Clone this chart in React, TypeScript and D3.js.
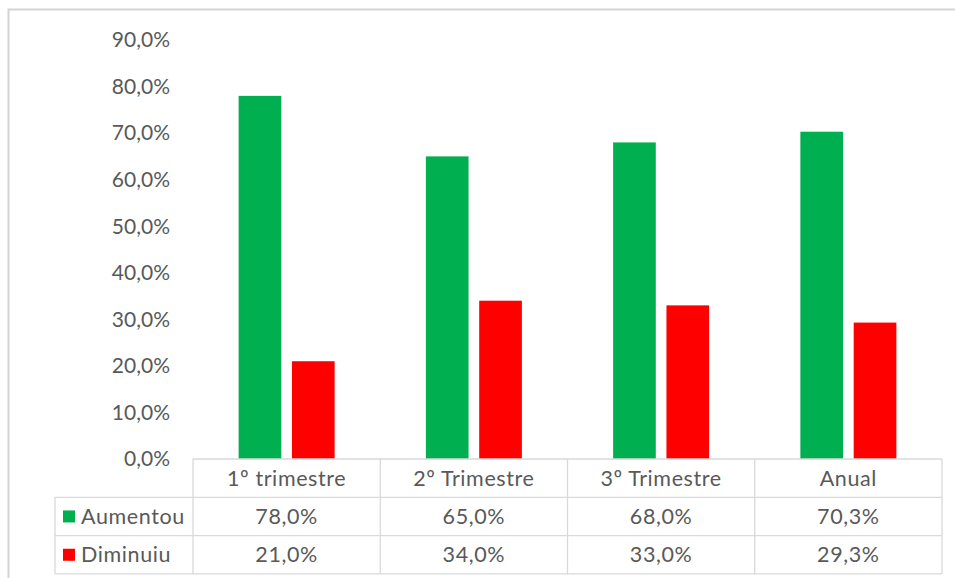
import React from "react";
import * as d3 from "d3";

const categories = ["1º trimestre", "2º Trimestre", "3º Trimestre", "Anual"];
const aumentou = [78.0, 65.0, 68.0, 70.3];
const diminuiu = [21.0, 34.0, 33.0, 29.3];
const seriesNames = ["Aumentou", "Diminuiu"];
const seriesColors = ["#00B050", "#FF0000"];
const yTicks = [0, 10, 20, 30, 40, 50, 60, 70, 80, 90];

const W = 955;
const H = 578;
const plotLeft = 193;
const plotRight = 942;
const plotTop = 40;
const plotBottom = 459;
const rowH = 38.3;
const labelLeft = 55;
const FS = 21;
const TABLE_FS = 21.5;
const TABLE_LS = 0.6;

const fmt = (v: number) => v.toFixed(1).replace(".", ",") + "%";

export default function App() {
  const x = d3.scaleBand<string>().domain(categories).range([plotLeft, plotRight]).padding(0);
  const y = d3.scaleLinear().domain([0, 90]).range([plotBottom, plotTop]);
  // bar pair sits in the middle of each category column
  const groupW = 96;
  const groupOff = (x.bandwidth() - groupW) / 2;
  const inner = d3
    .scaleBand<string>()
    .domain(seriesNames)
    .range([groupOff, groupOff + groupW])
    .paddingInner(0.2)
    .paddingOuter(0);
  const series = [aumentou, diminuiu];
  const textColor = "#595959";
  const grid = "#d9d9d9";
  const font = "Lato, 'Open Sans', sans-serif";
  const bands = categories.map((c) => x(c) as number);
  const rowsY = [plotBottom, plotBottom + rowH, plotBottom + 2 * rowH, plotBottom + 3 * rowH];

  return (
    <svg
      width={W}
      height={H}
      style={{ position: "absolute", left: 0, top: 0, background: "#fff" }}
      fontFamily={font}
    >
      <rect x={8.5} y={9.5} width={W + 10} height={H + 10} fill="#fff" stroke="#d4d4d4" strokeWidth={2} />

      {yTicks.map((t) => (
        <text
          key={t}
          x={170}
          y={y(t)}
          dy="0.35em"
          textAnchor="end"
          fontSize={FS}
          fill={textColor}
        >
          {fmt(t)}
        </text>
      ))}

      {series.map((vals, si) =>
        categories.map((c, ci) => (
          <rect
            key={`${si}-${ci}`}
            x={(x(c) as number) + (inner(seriesNames[si]) as number)}
            y={y(vals[ci])}
            width={inner.bandwidth()}
            height={plotBottom - y(vals[ci])}
            fill={seriesColors[si]}
          />
        ))
      )}

      {/* data table */}
      <g stroke={grid} strokeWidth={1.3} fill="none">
        <line x1={plotLeft} x2={plotRight} y1={rowsY[0]} y2={rowsY[0]} />
        <line x1={labelLeft} x2={plotRight} y1={rowsY[1]} y2={rowsY[1]} />
        <line x1={labelLeft} x2={plotRight} y1={rowsY[2]} y2={rowsY[2]} />
        <line x1={labelLeft} x2={plotRight} y1={rowsY[3]} y2={rowsY[3]} />
        <line x1={labelLeft} x2={labelLeft} y1={rowsY[1]} y2={rowsY[3]} />
        {bands.map((bx, i) => (
          <line key={i} x1={bx} x2={bx} y1={rowsY[0]} y2={rowsY[3]} />
        ))}
        <line x1={plotRight} x2={plotRight} y1={rowsY[0]} y2={rowsY[3]} />
      </g>

      <g fontSize={TABLE_FS} letterSpacing={TABLE_LS} fill={textColor}>
        {categories.map((c) => (
          <text
            key={c}
            x={(x(c) as number) + x.bandwidth() / 2}
            y={(rowsY[0] + rowsY[1]) / 2}
            dy="0.35em"
            textAnchor="middle"
          >
            {c}
          </text>
        ))}

        {series.map((vals, si) => (
          <g key={si}>
            <rect
              x={63}
              y={(rowsY[si + 1] + rowsY[si + 2]) / 2 - 6}
              width={12}
              height={12}
              fill={seriesColors[si]}
            />
            <text x={81} y={(rowsY[si + 1] + rowsY[si + 2]) / 2} dy="0.35em">
              {seriesNames[si]}
            </text>
            {categories.map((c, ci) => (
              <text
                key={c}
                x={(x(c) as number) + x.bandwidth() / 2}
                y={(rowsY[si + 1] + rowsY[si + 2]) / 2}
                dy="0.35em"
                textAnchor="middle"
              >
                {fmt(vals[ci])}
              </text>
            ))}
          </g>
        ))}
      </g>
    </svg>
  );
}
